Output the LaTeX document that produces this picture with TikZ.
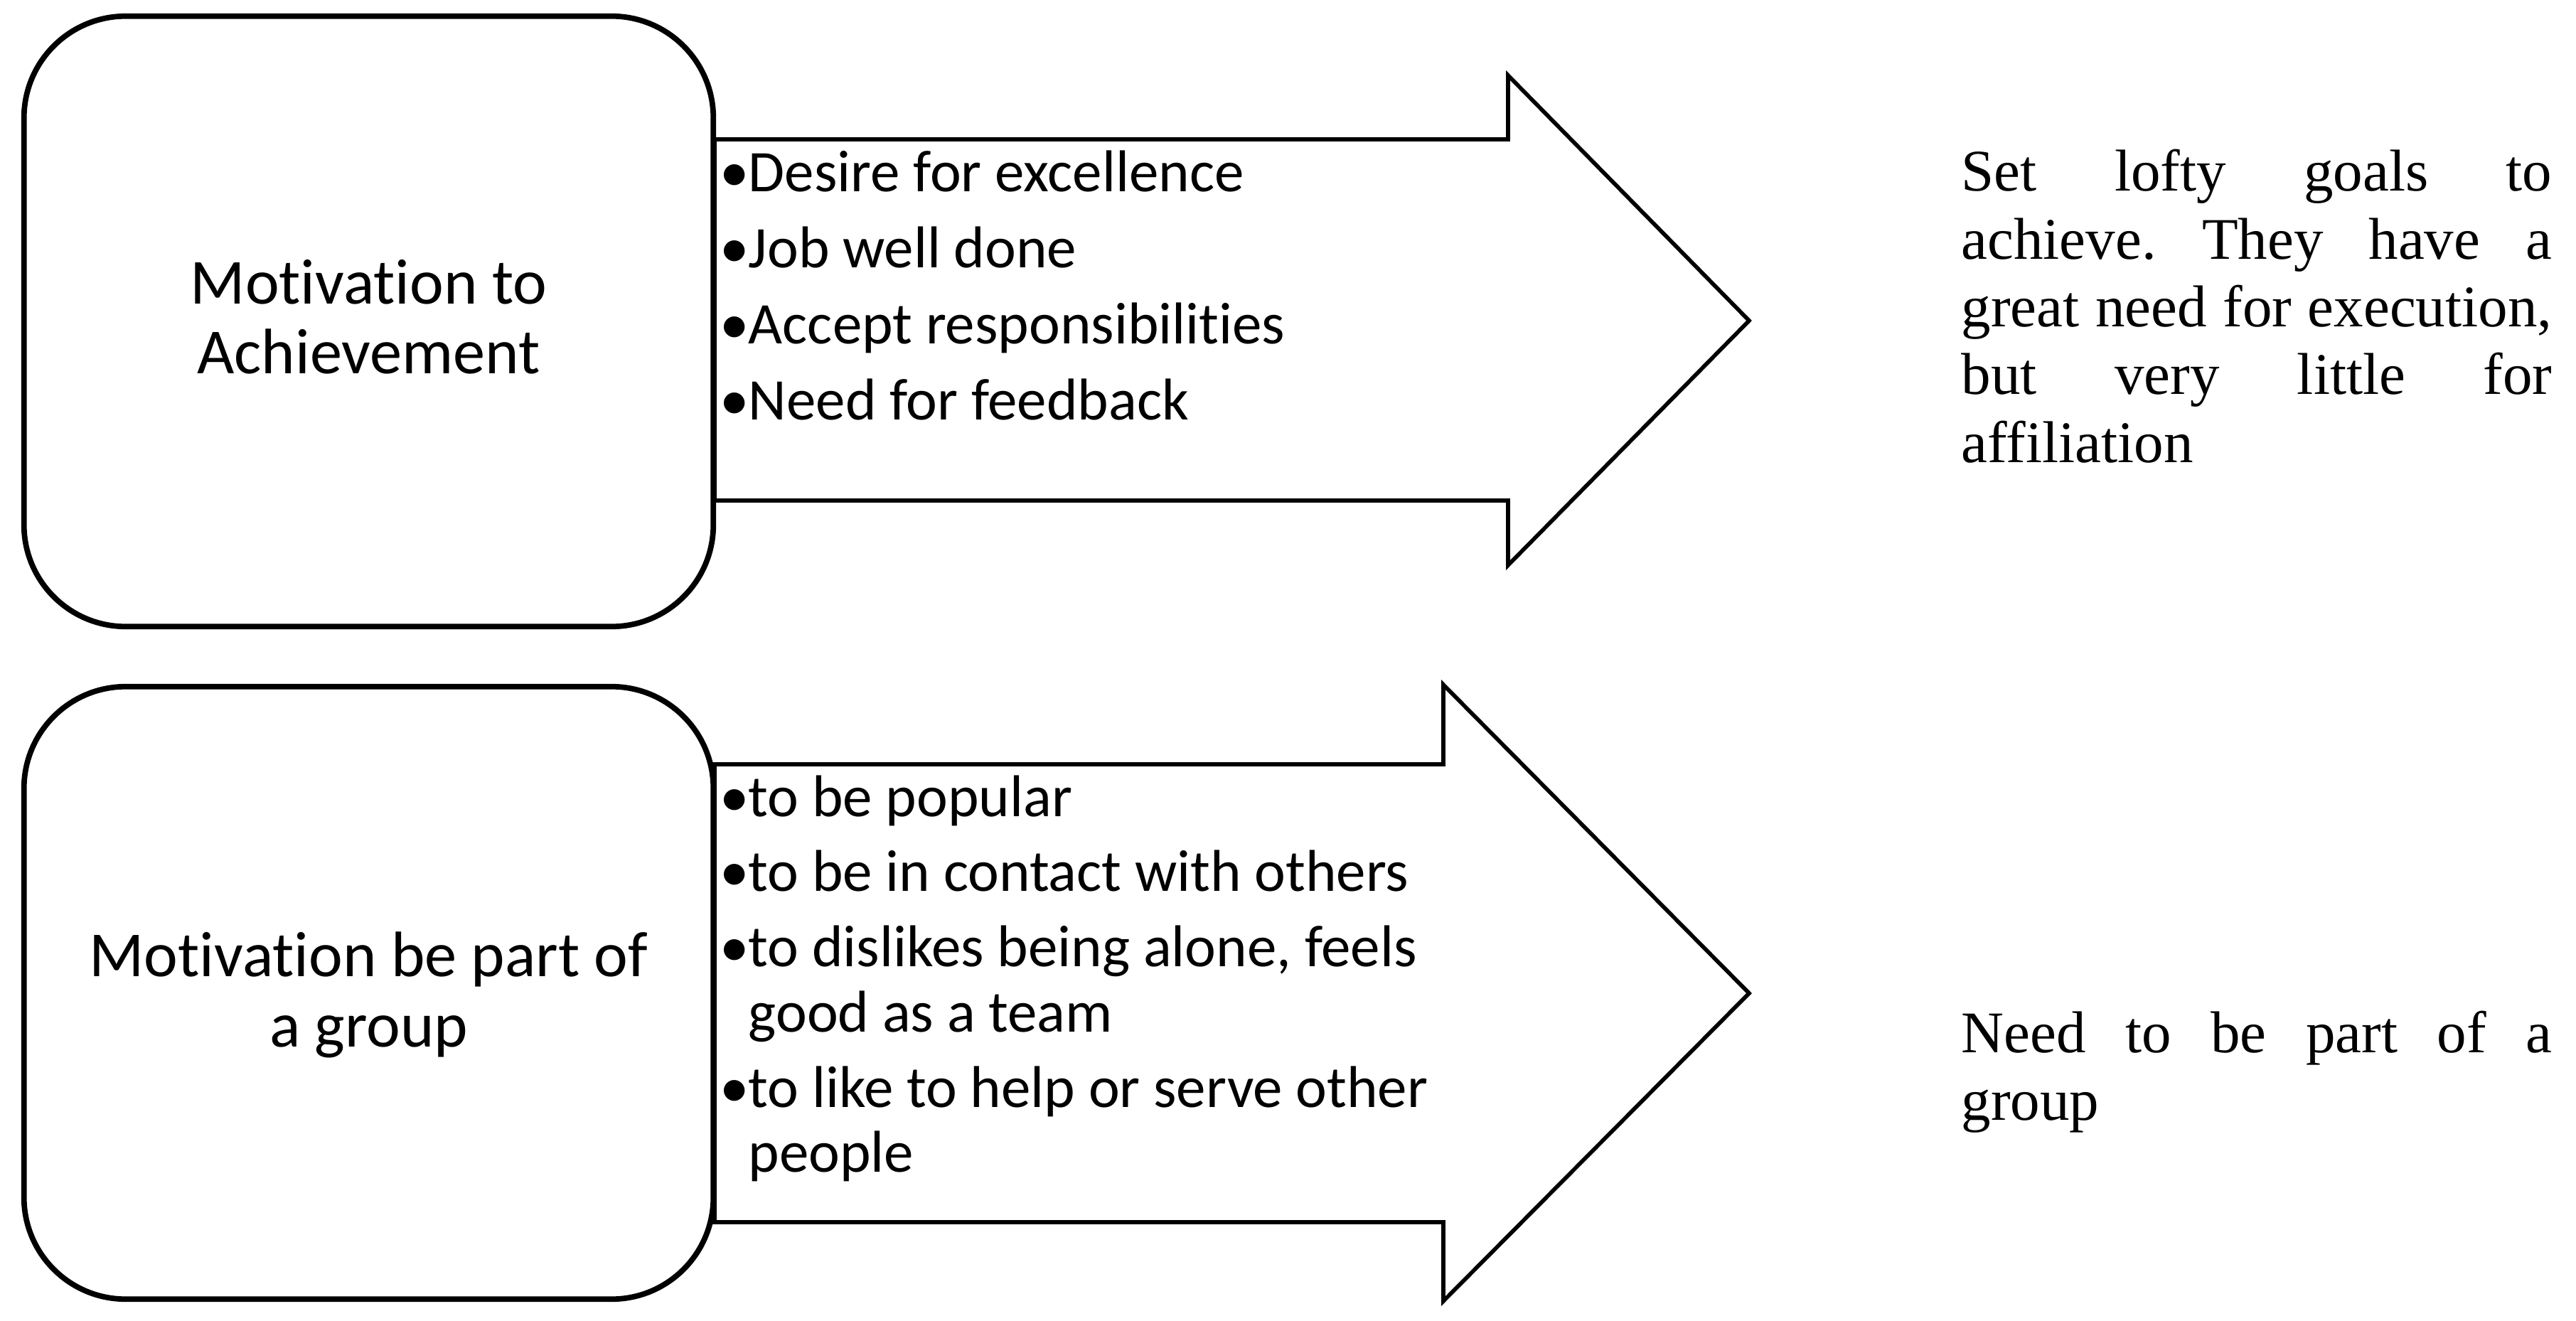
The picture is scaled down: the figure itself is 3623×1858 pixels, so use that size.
\documentclass[tikz,border=0pt]{standalone}
\usepackage{fontspec}
\setmainfont{Carlito}[RawFeature={-liga}]
\newfontfamily\tnrfont{Liberation Serif}[RawFeature={-liga}]
\newcommand{\bitem}{\noindent\hangindent=0.4cm\hangafter=1\makebox[0.4cm][l]{•}}
\begin{document}
\begin{tikzpicture}[x=0.01cm,y=-0.01cm,
  mbox/.style={draw, line width=2.2pt, rounded corners=1.43cm, minimum width=9.69cm, inner sep=0pt, fill=white},
  barrow/.style={draw, line width=1.6pt, line join=miter},
  txt/.style={inner sep=0pt}]
\useasboundingbox (0,0) rectangle (3623,1858);
% arrows
\draw[barrow] (1005,196) -- (2121,196) -- (2121,106) -- (2460,451) -- (2121,795) -- (2121,704) -- (1005,704) -- cycle;
\draw[barrow] (1005,1075) -- (2030,1075) -- (2030,963) -- (2460,1397) -- (2030,1830) -- (2030,1719) -- (1005,1719) -- cycle;
% boxes
\node[mbox, minimum height=8.58cm] (m1) at (518.5,452) {};
\node[mbox, minimum height=8.61cm] (m2) at (518.5,1396.5) {};
\node[txt, anchor=base] (t1) at (518.5,428) {\parbox[t]{9cm}{\centering\fontsize{25.7}{27.8}\selectfont Motivation to\\Achievement}};
\node[txt, anchor=base] (t2) at (518.5,1373) {\parbox[t]{9cm}{\centering\fontsize{25.7}{28.4}\selectfont Motivation be part of\\a group}};
% bullet lists
\node[txt, anchor=base west] (l1) at (1012,270) {\parbox[t]{12cm}{\fontsize{23.6}{26.1}\selectfont\raggedright\parskip=0.15cm
\bitem Desire for excellence\par
\bitem Job well done\par
\bitem Accept responsibilities\par
\bitem Need for feedback\par}};
\node[txt, anchor=base west] (l2) at (1012,1148) {\parbox[t]{12cm}{\fontsize{23.6}{26.1}\selectfont\raggedright\parskip=0.14cm
\bitem to be popular\par
\bitem to be in contact with others\par
\bitem to dislikes being alone, feels\newline good as a team\par
\bitem to like to help or serve other\newline people\par}};
% right texts
\node[txt, anchor=base west] (r1) at (2758,269) {\parbox[t]{8.3cm}{\tnrfont\fontsize{23.6}{27.1}\selectfont\frenchspacing\tolerance=10000 Set lofty goals to\linebreak achieve. They have a\linebreak great need for execution,\linebreak but very little for\linebreak affiliation}};
\node[txt, anchor=base west] (r2) at (2758,1480) {\parbox[t]{8.3cm}{\tnrfont\fontsize{23.6}{27.1}\selectfont\frenchspacing\tolerance=10000 Need to be part of a\linebreak group}};
\end{tikzpicture}
\end{document}
